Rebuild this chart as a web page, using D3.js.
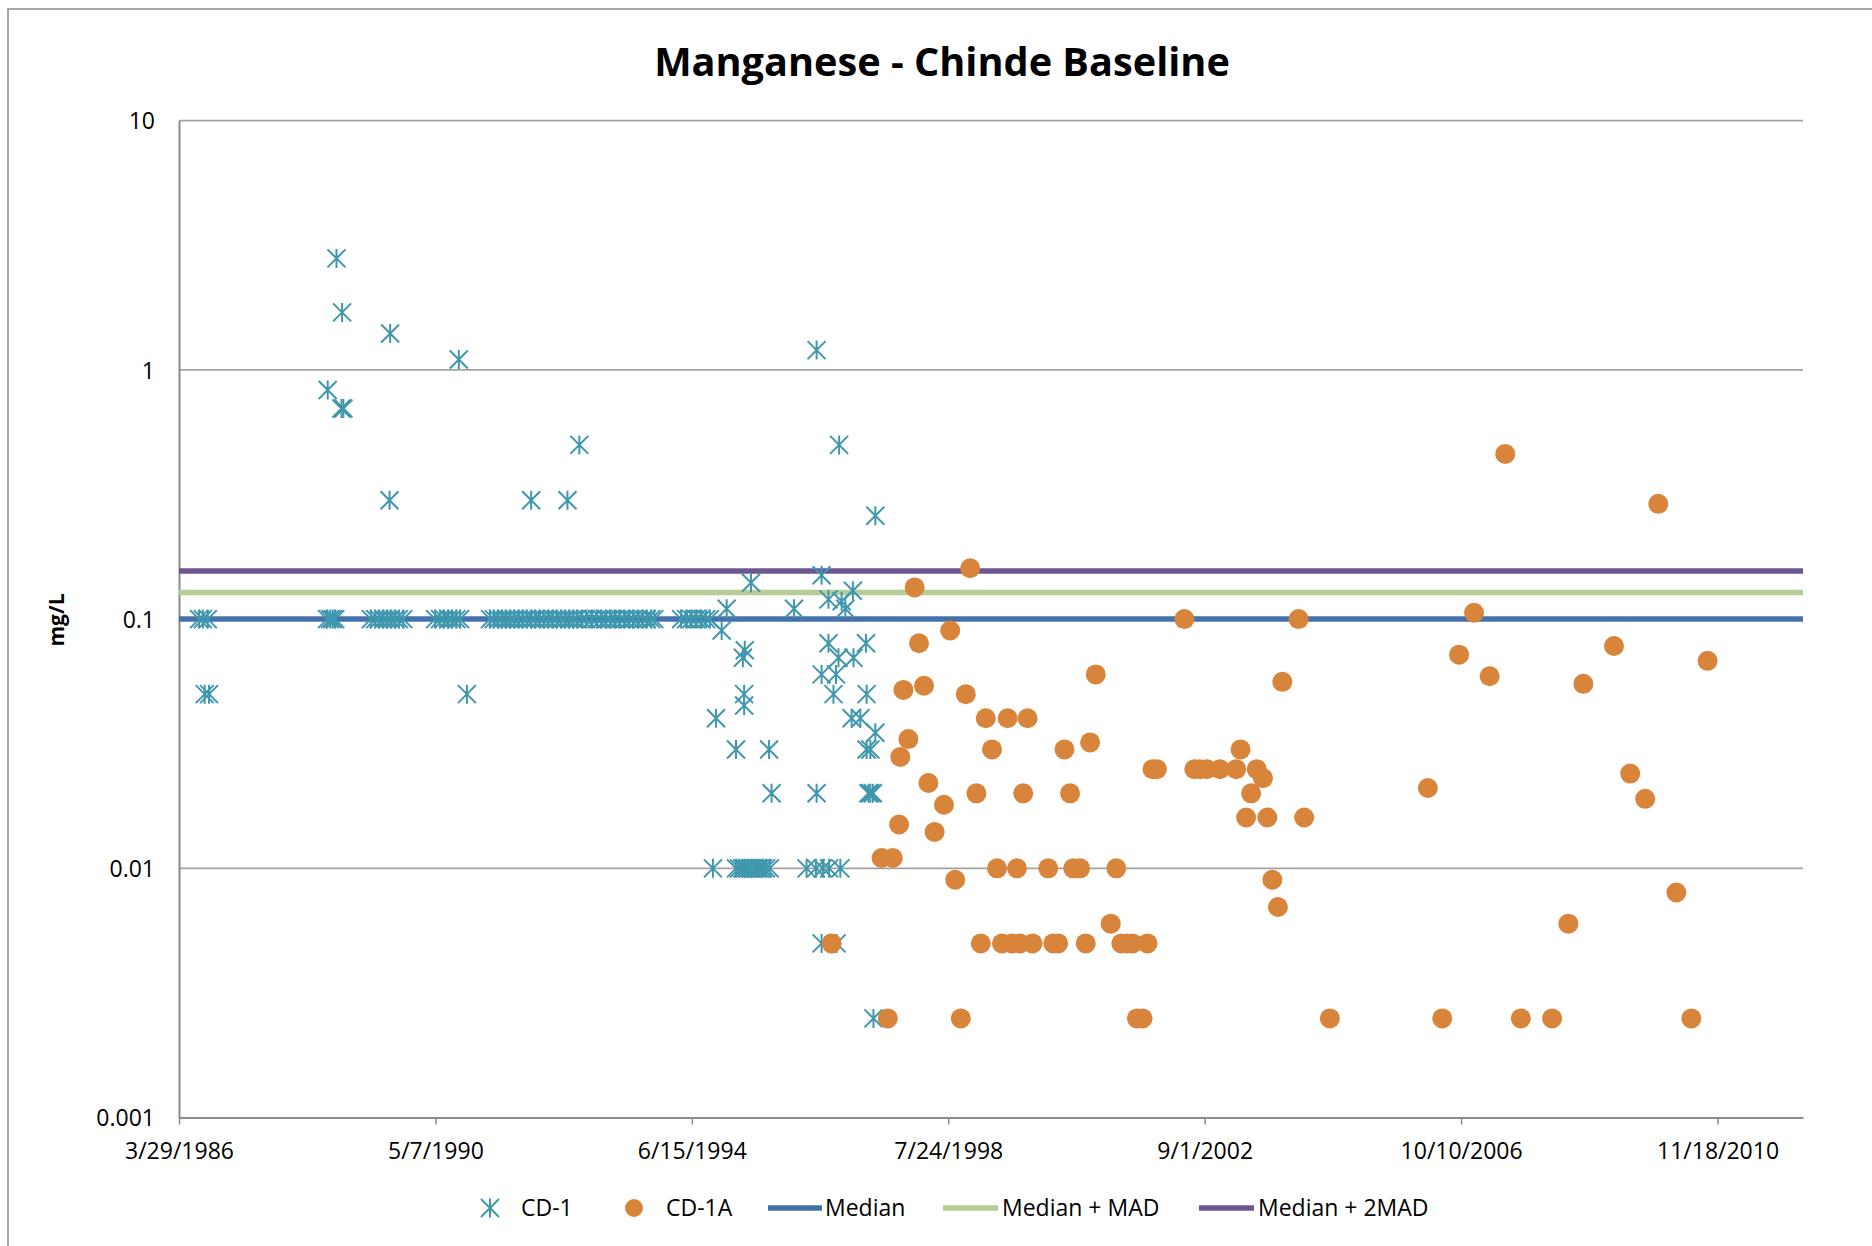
<!DOCTYPE html>
<html><head><meta charset="utf-8">
<script src="https://cdn.jsdelivr.net/npm/d3@7/dist/d3.min.js"></script>
<style>
body{margin:0;background:#fff}
svg{display:block}
text{font-family:"Open Sans",sans-serif;fill:#000}
</style>
</head><body>
<svg id="chart" width="1872" height="1246"></svg>
<script>
// ---------- data ----------
const chartTitle = "Manganese - Chinde Baseline";
const yAxisTitle = "mg/L";
const xTickLabels = ["3/29/1986","5/7/1990","6/15/1994","7/24/1998","9/1/2002","10/10/2006","11/18/2010"];
const xDomainLabels = ["3/29/1986","4/1/2012"];
const yTickValues = [0.001, 0.01, 0.1, 1, 10];
const yTickLabels = ["0.001","0.01","0.1","1","10"];
const legendLabels = ["CD-1","CD-1A","Median","Median + MAD","Median + 2MAD"];

// reference lines (mg/L)
const medianValue = 0.1;
const medianPlusMAD = 0.128;
const medianPlus2MAD = 0.156;

// CD-1 samples: [decimal year, mg/L]
const cd1Early = [
  [1986.56,0.1],[1986.62,0.1],[1986.70,0.1],[1986.65,0.05],[1986.72,0.05],
  [1988.61,0.1],[1988.66,0.1],[1988.70,0.1],[1988.74,0.1],
  [1988.62,0.83],[1988.76,2.8],[1988.84,0.7],[1988.87,0.7],[1988.85,1.7],
  [1989.31,0.1],[1989.38,0.1],[1989.44,0.1],[1989.51,0.1],[1989.57,0.1],
  [1989.63,0.1],[1989.70,0.1],[1989.76,0.1],[1989.83,0.1],
  [1989.62,1.4],[1989.61,0.3],
  [1990.34,0.1],[1990.42,0.1],[1990.48,0.1],[1990.55,0.1],[1990.61,0.1],
  [1990.68,0.1],[1990.74,0.1],[1990.72,1.1],[1990.85,0.05],
  [1991.88,0.3],[1992.46,0.3],[1992.65,0.5]
];
const cd1Band = [
  [1991.22,0.1],[1991.28,0.1],[1991.35,0.1],[1991.41,0.1],[1991.48,0.1],
  [1991.54,0.1],[1991.60,0.1],[1991.68,0.1],[1991.75,0.1],[1991.81,0.1],
  [1991.88,0.1],[1991.94,0.1],[1992.02,0.1],[1992.08,0.1],[1992.15,0.1],
  [1992.23,0.1],[1992.29,0.1],[1992.36,0.1],[1992.42,0.1],[1992.49,0.1],
  [1992.55,0.1],[1992.61,0.1],[1992.69,0.1],[1992.76,0.1],[1992.85,0.1],
  [1992.93,0.1],[1993.00,0.1],[1993.08,0.1],[1993.14,0.1],[1993.22,0.1],
  [1993.30,0.1],[1993.37,0.1],[1993.45,0.1],[1993.51,0.1],[1993.59,0.1],
  [1993.67,0.1],[1993.73,0.1],[1993.80,0.1],[1993.85,0.1],
  [1994.28,0.1],[1994.36,0.1],[1994.44,0.1],[1994.52,0.1],[1994.60,0.1],
  [1994.68,0.1],[1994.74,0.1]
];
const cd1Late = [
  [1994.79,0.01],[1994.84,0.04],[1994.93,0.09],[1995.01,0.11],[1995.16,0.03],
  [1995.27,0.07],[1995.30,0.075],[1995.29,0.05],[1995.29,0.045],[1995.40,0.14],
  [1995.69,0.03],[1995.73,0.02],
  [1995.16,0.01],[1995.21,0.01],[1995.26,0.01],[1995.30,0.01],[1995.35,0.01],
  [1995.40,0.01],[1995.45,0.01],[1995.50,0.01],[1995.54,0.01],[1995.59,0.01],
  [1995.64,0.01],[1995.70,0.01],
  [1996.09,0.11],[1996.45,1.2],[1996.45,0.02],
  [1996.29,0.01],[1996.44,0.01],[1996.55,0.01],[1996.65,0.01],[1996.83,0.01],
  [1996.53,0.15],[1996.53,0.06],[1996.53,0.005],[1996.64,0.12],[1996.64,0.08],
  [1996.76,0.06],[1996.72,0.05],[1996.77,0.005],[1996.80,0.07],[1996.81,0.5],
  [1996.85,0.118],[1996.91,0.11],[1997.03,0.13],[1997.04,0.07],[1997.01,0.04],
  [1997.15,0.04],[1997.24,0.08],[1997.25,0.05],[1997.25,0.03],[1997.31,0.03],
  [1997.28,0.02],[1997.31,0.02],[1997.35,0.02],[1997.36,0.0025],[1997.39,0.035],
  [1997.39,0.26]
];

// CD-1A samples: [decimal year, mg/L]
const cd1a = [
  [1996.69,0.005],[1997.49,0.011],[1997.59,0.0025],[1997.67,0.011],[1997.77,0.015],
  [1997.79,0.028],[1997.84,0.052],[1997.92,0.033],[1998.02,0.134],[1998.09,0.08],
  [1998.17,0.054],[1998.24,0.022],[1998.34,0.014],[1998.49,0.018],[1998.59,0.09],
  [1998.67,0.009],[1998.76,0.0025],[1998.84,0.05],[1998.91,0.16],[1999.01,0.02],
  [1999.08,0.005],[1999.16,0.04],[1999.26,0.03],[1999.34,0.01],[1999.42,0.005],
  [1999.51,0.04],[1999.58,0.005],[1999.66,0.01],[1999.71,0.005],[1999.76,0.02],
  [1999.83,0.04],[1999.91,0.005],[2000.16,0.01],[2000.24,0.005],[2000.32,0.005],
  [2000.42,0.03],[2000.51,0.02],[2000.56,0.01],[2000.67,0.01],[2000.76,0.005],
  [2000.83,0.032],[2000.92,0.06],[2001.16,0.006],[2001.25,0.01],[2001.33,0.005],
  [2001.42,0.005],[2001.51,0.005],[2001.58,0.0025],[2001.67,0.0025],[2001.75,0.005],
  [2001.83,0.025],[2001.90,0.025],[2002.34,0.1],[2002.50,0.025],[2002.59,0.025],
  [2002.70,0.025],[2002.91,0.025],[2003.17,0.025],[2003.24,0.03],[2003.33,0.016],
  [2003.41,0.02],[2003.50,0.025],[2003.60,0.023],[2003.67,0.016],[2003.75,0.009],
  [2003.84,0.007],[2003.91,0.056],[2004.17,0.1],[2004.26,0.016],[2004.67,0.0025],
  [2006.24,0.021],[2006.47,0.0025],[2006.74,0.072],[2006.98,0.106],[2007.23,0.059],
  [2007.48,0.46],[2007.73,0.0025],[2008.23,0.0025],[2008.49,0.006],[2008.73,0.055],
  [2009.22,0.078],[2009.48,0.024],[2009.72,0.019],[2009.93,0.29],[2010.22,0.008],
  [2010.46,0.0025],[2010.72,0.068]
];

// ---------- helpers ----------
const parseDate = d3.utcParse("%m/%d/%Y");
function yearToDate(y){
  const yr = Math.floor(y);
  const s = Date.UTC(yr,0,1), e = Date.UTC(yr+1,0,1);
  return new Date(s + (y - yr) * (e - s));
}

// ---------- layout ----------
const W = 1872, H = 1246;
const plot = {left:179, right:1803, top:120.6, bottom:1117.6};
const svg = d3.select("#chart");

const colors = {
  cd1:"#3f97ae", cd1a:"#d9843b",
  median:"#4672ab", mad:"#b6cd94", mad2:"#6e5690",
  grid:"#a3a3a3", axis:"#8c8c8c"
};

const x = d3.scaleUtc()
  .domain(xDomainLabels.map(parseDate))
  .range([plot.left, plot.right]);
const y = d3.scaleLog()
  .domain([yTickValues[0], yTickValues[yTickValues.length-1]])
  .range([plot.bottom, plot.top]);

// outer chart border
svg.append("rect").attr("x",8).attr("y",9).attr("width",W+40).attr("height",H+40)
  .attr("fill","none").attr("stroke","#8a8a8a").attr("stroke-width",1.5);

// gridlines
svg.append("g").selectAll("line").data(yTickValues.slice(1)).join("line")
  .attr("x1",plot.left).attr("x2",plot.right)
  .attr("y1",d=>y(d)).attr("y2",d=>y(d))
  .attr("stroke",colors.grid).attr("stroke-width",1.6);

// axes
const xAxis = d3.axisBottom(x)
  .tickValues(xTickLabels.map(parseDate))
  .tickFormat((d,i)=>xTickLabels[i])
  .tickSize(7).tickSizeOuter(0);
const gx = svg.append("g").attr("transform",`translate(0,${plot.bottom})`).call(xAxis);
gx.select(".domain").attr("stroke",colors.axis).attr("stroke-width",2);
gx.selectAll(".tick line").attr("stroke",colors.axis).attr("stroke-width",1.5);
gx.selectAll(".tick text").attr("y",41.5).attr("dy",0)
  .style("font-size","23px").style("font-family","'Open Sans',sans-serif").attr("fill","#000");

const yAxis = d3.axisLeft(y)
  .tickValues(yTickValues)
  .tickFormat((d,i)=>yTickLabels[i])
  .tickSize(0).tickPadding(24);
const gy = svg.append("g").attr("transform",`translate(${plot.left},0)`).call(yAxis);
gy.select(".domain").attr("stroke",colors.axis).attr("stroke-width",2);
gy.selectAll(".tick text").attr("dy","0.36em")
  .style("font-size","23px").style("font-family","'Open Sans',sans-serif").attr("fill","#000");

// reference lines
const refLines = [
  {v:medianValue, c:colors.median},
  {v:medianPlusMAD, c:colors.mad},
  {v:medianPlus2MAD, c:colors.mad2}
];
const lineGen = d3.line().x(d=>x(d[0])).y(d=>y(d[1]));
svg.append("g").selectAll("path").data(refLines).join("path")
  .attr("d",r=>lineGen(x.domain().map(dt=>[dt,r.v])))
  .attr("fill","none").attr("stroke",r=>r.c).attr("stroke-width",5.5);

// CD-1 star markers (X with vertical bar)
const starPath = "M-9,-9L9,9M-9,9L9,-9M0,-9.5L0,9.5";
const cd1 = cd1Early.concat(cd1Band, cd1Late);
svg.append("g").selectAll("path").data(cd1).join("path")
  .attr("transform",d=>`translate(${x(yearToDate(d[0]))},${y(d[1])})`)
  .attr("d",starPath).attr("fill","none")
  .attr("stroke",colors.cd1).attr("stroke-width",2);

// CD-1A circles
svg.append("g").selectAll("circle").data(cd1a).join("circle")
  .attr("cx",d=>x(yearToDate(d[0]))).attr("cy",d=>y(d[1])).attr("r",10)
  .attr("fill",colors.cd1a);

// title
const t = svg.append("text").attr("x",942).attr("y",76).attr("text-anchor","middle")
  .style("font-weight","bold").style("font-size","40px").text(chartTitle);
const tw = t.node().getComputedTextLength();
t.style("font-size",(40*576/tw)+"px");

// y-axis title
svg.append("text").attr("transform","translate(64,620) rotate(-90)")
  .attr("text-anchor","middle").style("font-weight","bold").style("font-size","21px")
  .text(yAxisTitle);

// legend
const ly = 1208;
const lg = svg.append("g");
lg.append("path").attr("transform",`translate(490,${ly})`).attr("d",starPath)
  .attr("fill","none").attr("stroke",colors.cd1).attr("stroke-width",2);
lg.append("circle").attr("cx",634).attr("cy",ly).attr("r",9).attr("fill",colors.cd1a);
const legLines = [[768,822,colors.median],[943,998,colors.mad],[1199,1254,colors.mad2]];
lg.selectAll("line").data(legLines).join("line")
  .attr("x1",d=>d[0]).attr("x2",d=>d[1]).attr("y1",ly).attr("y2",ly)
  .attr("stroke",d=>d[2]).attr("stroke-width",5.5);
const legTextX = [521,666,825,1002,1258];
lg.selectAll("text").data(legendLabels).join("text")
  .attr("x",(d,i)=>legTextX[i]).attr("y",ly).attr("dy","0.36em")
  .style("font-size","23px").text(d=>d);
</script>
</body></html>
